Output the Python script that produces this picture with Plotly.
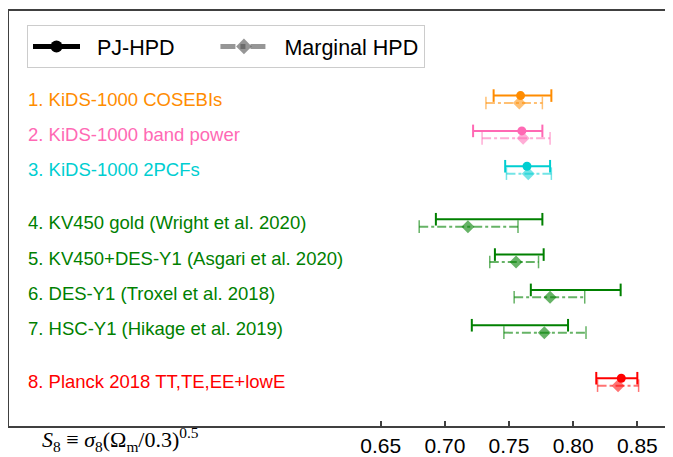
import plotly.graph_objects as go


# ==========================
# DATA
# ==========================

labels = [
    "1. KiDS-1000 COSEBIs",
    "2. KiDS-1000 band power",
    "3. KiDS-1000 2PCFs",
    "4. KV450 gold (Wright et al. 2020)",
    "5. KV450+DES-Y1 (Asgari et al. 2020)",
    "6. DES-Y1 (Troxel et al. 2018)",
    "7. HSC-Y1 (Hikage et al. 2019)",
    "8. Planck 2018 TT,TE,EE+lowE",
]

colors = [
    "#ff8c00", "#ff69b4", "#00ced1",
    "#008000", "#008000", "#008000", "#008000",
    "#ff0000",
]

faded = [
    "rgba(255,140,0,0.55)", "rgba(255,105,180,0.55)", "rgba(0,206,209,0.55)",
    "rgba(0,128,0,0.6)", "rgba(0,128,0,0.6)", "rgba(0,128,0,0.6)", "rgba(0,128,0,0.6)",
    "rgba(255,0,0,0.55)",
]

rows = [0, 1, 2, 3.5, 4.5, 5.5, 6.5, 8]

# PJ-HPD
pj_lo = [0.738, 0.722, 0.747, 0.693, 0.739, 0.767, 0.721, 0.818]
pj_hi = [0.783, 0.776, 0.782, 0.776, 0.777, 0.837, 0.796, 0.850]
pj_mid = [0.759, 0.760, 0.764, None, None, None, None, 0.8375]

# Marginal HPD
mg_lo = [0.732, 0.729, 0.748, 0.680, 0.735, 0.754, 0.746, 0.819]
mg_hi = [0.776, 0.782, 0.783, 0.757, 0.773, 0.809, 0.810, 0.851]
mg_mid = [0.758, 0.761, 0.765, 0.718, 0.7555, 0.782, 0.7775, 0.835]

tick_vals = [0.65, 0.70, 0.75, 0.80, 0.85]
tick_text = ["0.65", "0.70", "0.75", "0.80", "0.85"]

legend_names = ["\u00a0\u00a0PJ-HPD" + "\u00a0" * 6, "\u00a0\u00a0Marginal HPD"]


# ==========================
# FIGURE
# ==========================

fig = go.Figure()

offset = 0.21

for i in range(len(labels)):

    y_pj = rows[i]
    y_mg = rows[i] + offset

    # PJ-HPD interval
    fig.add_trace(
        go.Scatter(
            x=[pj_lo[i], pj_hi[i]],
            y=[y_pj, y_pj],
            mode="lines+markers",
            line=dict(color=colors[i], width=2),
            marker=dict(symbol="line-ns", size=9,
                        line=dict(color=colors[i], width=2)),
            showlegend=False,
            hoverinfo="skip"
        )
    )

    if pj_mid[i] is not None:
        fig.add_trace(
            go.Scatter(
                x=[pj_mid[i]],
                y=[y_pj],
                mode="markers",
                marker=dict(symbol="circle", size=9, color=colors[i]),
                showlegend=False
            )
        )

    # Marginal HPD interval
    fig.add_trace(
        go.Scatter(
            x=[mg_lo[i], mg_hi[i]],
            y=[y_mg, y_mg],
            mode="lines+markers",
            line=dict(color=faded[i], width=2, dash="dashdot"),
            marker=dict(symbol="line-ns", size=9,
                        line=dict(color=faded[i], width=1.5)),
            showlegend=False,
            hoverinfo="skip"
        )
    )

    fig.add_trace(
        go.Scatter(
            x=[mg_mid[i]],
            y=[y_mg],
            mode="markers",
            marker=dict(symbol="diamond", size=10, color=faded[i]),
            showlegend=False
        )
    )

    fig.add_annotation(
        x=0.3732,
        y=rows[i] + offset / 2,
        text=labels[i],
        showarrow=False,
        xanchor="left",
        yanchor="middle",
        font=dict(size=18.5, color=colors[i])
    )


# Legend entries

fig.add_trace(
    go.Scatter(
        x=[None],
        y=[None],
        mode="lines+markers",
        name=legend_names[0],
        line=dict(color="black", width=1.5),
        marker=dict(symbol="circle", size=9, color="black")
    )
)

fig.add_trace(
    go.Scatter(
        x=[None],
        y=[None],
        mode="lines+markers",
        name=legend_names[1],
        line=dict(color="rgba(80,80,80,0.6)", width=1.5, dash="dashdot"),
        marker=dict(symbol="diamond", size=10, color="rgba(80,80,80,0.6)")
    )
)


# Axis label

fig.add_annotation(
    x=(40 - 9) / 664,
    y=0,
    xref="paper",
    yref="paper",
    yanchor="top",
    xanchor="left",
    yshift=4,
    showarrow=False,
    text="<i>S</i><sub>8</sub> ≡ <i>σ</i><sub>8</sub>(Ω<sub>m</sub>/0.3)<sup>0.5</sup>",
    font=dict(size=22, color="black", family="Liberation Serif")
)


# page body adds 8px, so the figure is sized to fit what is left
fig.update_layout(
    width=665,
    height=449,
    margin=dict(l=1, r=0, t=3, b=29),
    plot_bgcolor="white",
    paper_bgcolor="white",
    font=dict(family="Liberation Sans, Arial, sans-serif", color="black"),
    showlegend=True,
    legend=dict(
        orientation="h",
        x=(27 - 9) / 664,
        y=1 - (25 - 11) / 417,
        xanchor="left",
        yanchor="top",
        bordercolor="#cccccc",
        borderwidth=1,
        bgcolor="white",
        font=dict(size=21.5),
        itemwidth=47,
        itemsizing="constant"
    ),
    xaxis=dict(
        range=[0.3603, 0.8778],
        tickvals=tick_vals,
        ticktext=tick_text,
        ticks="inside",
        ticklen=5,
        tickwidth=1.5,
        tickcolor="#404040",
        tickfont=dict(size=21),
        showgrid=False,
        zeroline=False,
        showline=True,
        linecolor="#404040",
        linewidth=1.5,
        mirror=True
    ),
    yaxis=dict(
        range=[9.352, -2.394],
        showticklabels=False,
        ticks="",
        showgrid=False,
        zeroline=False,
        showline=True,
        linecolor="#404040",
        linewidth=1.5
    )
)

fig.write_html("out.html")
